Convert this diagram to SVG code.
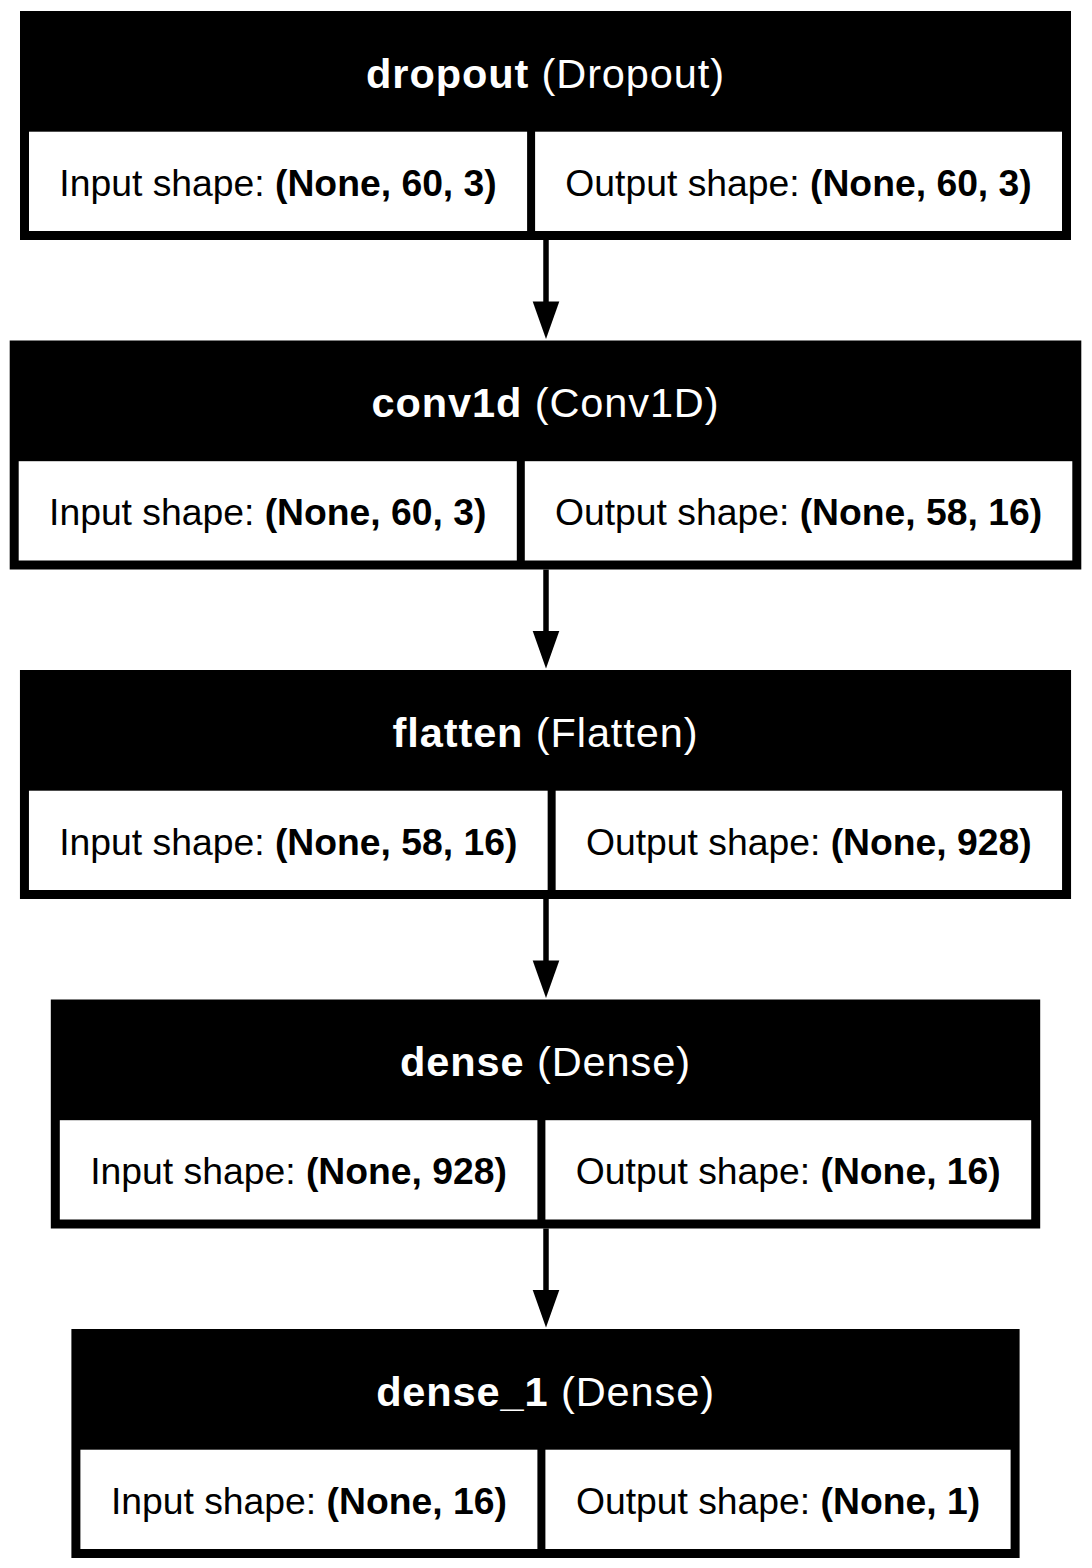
<svg xmlns="http://www.w3.org/2000/svg" width="1092" height="1568" viewBox="0 0 1092 1568">
<style>
.box{fill:#000;}
.cell{fill:#fff;}
.hd{font-family:"Liberation Sans",Arial,Helvetica,sans-serif;font-size:41.5px;letter-spacing:0.9px;fill:#fff;text-anchor:middle;}
.row{font-family:"Liberation Sans",Arial,Helvetica,sans-serif;font-size:37.3px;fill:#000;text-anchor:middle;}
.b{font-weight:bold;}
.edge{stroke:#000;stroke-width:5.5;fill:none;marker-end:url(#ah);}
</style>
<defs>
<marker id="ah" markerUnits="userSpaceOnUse" orient="auto" refX="0" refY="0" markerWidth="40" markerHeight="30" overflow="visible">
<path d="M-0.5,-13.3 L37,0 L-0.5,13.3 Z" fill="#000"/>
</marker>
</defs>
<rect width="1092" height="1568" fill="#fff"/>
<g id="connectors">
<path class="edge" d="M546,240 L546,302"/>
<path class="edge" d="M546,569.5 L546,631.5"/>
<path class="edge" d="M546,899 L546,961"/>
<path class="edge" d="M546,1228.5 L546,1290.5"/>
</g>
<g id="dropout">
<rect class="box" x="20" y="11" width="1051" height="229"/>
<rect class="cell" x="29" y="131.7" width="498.1" height="99.3"/>
<rect class="cell" x="535.1" y="131.7" width="526.9" height="99.3"/>
<text class="hd" x="545.5" y="87.7"><tspan class="b">dropout</tspan> (Dropout)</text>
<text class="row" x="278.05" y="195.5">Input shape: <tspan class="b">(None, 60, 3)</tspan></text>
<text class="row" x="798.55" y="195.5">Output shape: <tspan class="b">(None, 60, 3)</tspan></text>
</g>
<g id="conv1d">
<rect class="box" x="9.7" y="340.5" width="1071.6" height="229"/>
<rect class="cell" x="18.7" y="461.2" width="498.1" height="99.3"/>
<rect class="cell" x="524.8" y="461.2" width="547.5" height="99.3"/>
<text class="hd" x="545.5" y="417.2"><tspan class="b">conv1d</tspan> (Conv1D)</text>
<text class="row" x="267.75" y="525">Input shape: <tspan class="b">(None, 60, 3)</tspan></text>
<text class="row" x="798.55" y="525">Output shape: <tspan class="b">(None, 58, 16)</tspan></text>
</g>
<g id="flatten">
<rect class="box" x="19.95" y="670" width="1051.1" height="229"/>
<rect class="cell" x="28.95" y="790.7" width="518.7" height="99.3"/>
<rect class="cell" x="555.65" y="790.7" width="506.4" height="99.3"/>
<text class="hd" x="545.5" y="746.7"><tspan class="b">flatten</tspan> (Flatten)</text>
<text class="row" x="288.3" y="854.5">Input shape: <tspan class="b">(None, 58, 16)</tspan></text>
<text class="row" x="808.85" y="854.5">Output shape: <tspan class="b">(None, 928)</tspan></text>
</g>
<g id="dense">
<rect class="box" x="50.8" y="999.5" width="989.4" height="229"/>
<rect class="cell" x="59.8" y="1120.2" width="477.6" height="99.3"/>
<rect class="cell" x="545.4" y="1120.2" width="485.8" height="99.3"/>
<text class="hd" x="545.5" y="1076.2"><tspan class="b">dense</tspan> (Dense)</text>
<text class="row" x="298.6" y="1184">Input shape: <tspan class="b">(None, 928)</tspan></text>
<text class="row" x="788.3" y="1184">Output shape: <tspan class="b">(None, 16)</tspan></text>
</g>
<g id="dense_1">
<rect class="box" x="71.4" y="1329" width="948.2" height="229"/>
<rect class="cell" x="80.4" y="1449.7" width="457" height="99.3"/>
<rect class="cell" x="545.4" y="1449.7" width="465.2" height="99.3"/>
<text class="hd" x="545.5" y="1405.7"><tspan class="b">dense_1</tspan> (Dense)</text>
<text class="row" x="308.9" y="1513.5">Input shape: <tspan class="b">(None, 16)</tspan></text>
<text class="row" x="778" y="1513.5">Output shape: <tspan class="b">(None, 1)</tspan></text>
</g>
</svg>
